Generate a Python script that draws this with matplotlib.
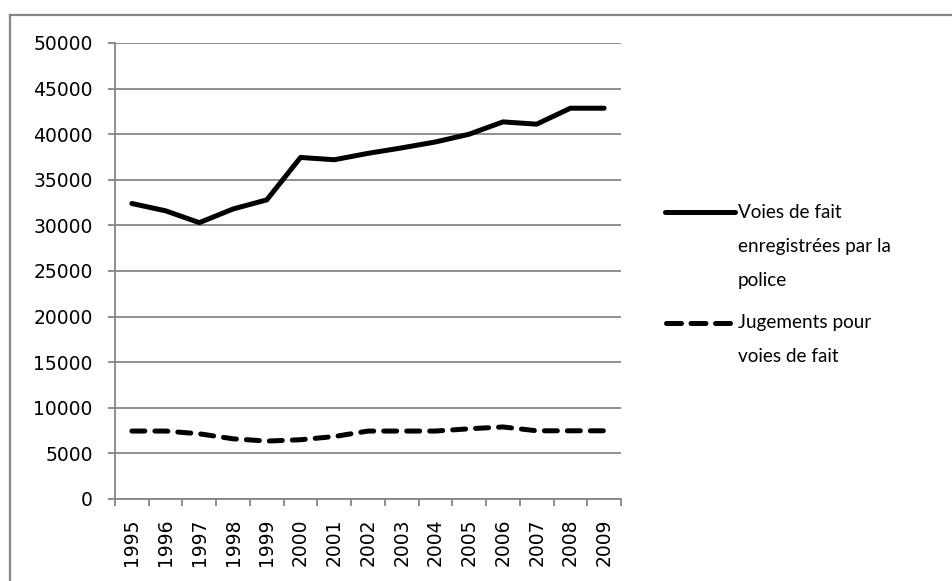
import matplotlib
matplotlib.use("Agg")
import matplotlib.pyplot as plt
from matplotlib.lines import Line2D
import numpy as np

years = ["1995", "1996", "1997", "1998", "1999", "2000", "2001", "2002",
         "2003", "2004", "2005", "2006", "2007", "2008", "2009"]
police = [32400, 31600, 30300, 31800, 32800, 37450, 37200, 37900,
          38500, 39150, 40000, 41350, 41100, 42850, 42850]
jugements = [7450, 7450, 7150, 6600, 6350, 6500, 6850, 7450,
             7450, 7450, 7700, 7900, 7480, 7480, 7480]
label_police = "Voies de fait\nenregistrées par la\npolice"
label_jug = "Jugements pour\nvoies de fait"
yticks = list(range(0, 50001, 5000))

plt.rcParams['font.family'] = ['Lato', 'DejaVu Sans']
GRAY = "#868686"
FS = 13.6
TICKFONT = dict(family=['DejaVu Sans'], size=13.5)
LW = 3.6
DASH = (0, (2.6, 2.0))
LEG_DASH = (0, (3.0, 1.9))

fig = plt.figure(figsize=(9.52, 5.81), dpi=100)
W, H = 952, 581
ax = fig.add_axes([115 / W, 1 - 499 / H, (621 - 115) / W, (499 - 43) / H])

x = np.arange(len(years))
ax.plot(x, police, color="black", lw=LW, solid_capstyle="round",
        solid_joinstyle="round")
ax.plot(x, jugements, color="black", lw=LW, linestyle=DASH,
        dash_capstyle="round", dash_joinstyle="round")

ax.set_xlim(-0.5, len(years) - 0.5)
ax.set_ylim(0, 50000)
ax.set_yticks(yticks)
ax.set_yticklabels([str(v) for v in yticks], fontdict=TICKFONT)
ax.set_xticks(x)
ax.set_xticklabels(years, rotation=90, fontdict=TICKFONT)
ax.set_xticks(np.arange(-0.5, len(years), 1.0), minor=True)
ax.tick_params(axis="x", which="major", length=0, pad=14)
ax.tick_params(axis="x", which="minor", length=5, width=1.3, color=GRAY,
               direction="out")
ax.tick_params(axis="y", length=5, width=1.3, color=GRAY, direction="out",
               pad=11)
ax.yaxis.grid(True, color=GRAY, lw=1.3)
ax.set_axisbelow(True)
for s in ["top", "right"]:
    ax.spines[s].set_visible(False)
for s in ["left", "bottom"]:
    ax.spines[s].set_color(GRAY)
    ax.spines[s].set_linewidth(1.3)

# chart area border (top and left visible)
fig.add_artist(Line2D([10 / W, 10 / W], [0, 1 - 14.5 / H], color=GRAY, lw=1.6))
fig.add_artist(Line2D([10 / W, 1], [1 - 14.5 / H, 1 - 14.5 / H], color=GRAY, lw=1.6))

# legend
fig.add_artist(Line2D([665 / W, 735 / W], [1 - 212 / H, 1 - 212 / H],
                      color="black", lw=LW, solid_capstyle="round"))
fig.add_artist(Line2D([666 / W, 736 / W], [1 - 323 / H, 1 - 323 / H],
                      color="black", lw=LW, linestyle=LEG_DASH,
                      dash_capstyle="round"))
fig.text(738 / W, 1 - 204 / H, label_police, fontsize=FS, va="top",
         ha="left", linespacing=2.2)
fig.text(738 / W, 1 - 314 / H, label_jug, fontsize=FS, va="top",
         ha="left", linespacing=2.2)

fig.savefig("out.png", dpi=100, facecolor="white")
